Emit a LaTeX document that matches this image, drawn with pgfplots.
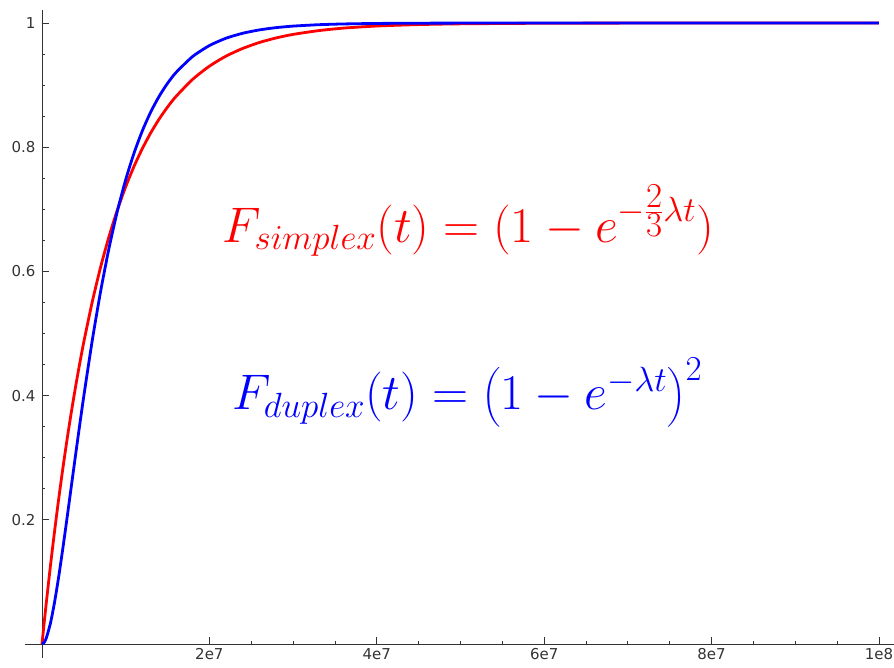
\RequirePackage{fix-cm}
\documentclass[border=0pt]{standalone}
\usepackage{amsmath}
\usepackage[no-math]{fontspec}
\setmainfont{DejaVu Sans}
\usepackage{pgfplots}
\usepackage{pgfplotstable}
\pgfplotsset{compat=1.18}

% time t in units of 1e6; simplex and duplex failure probabilities
\pgfplotstableread{
t     simplex  duplex
0     0        0
0.25  0.0328   0.00238
0.5   0.0645   0.00906
1     0.1248   0.03286
1.5   0.1813   0.06718
2     0.2341   0.10869
2.5   0.2835   0.15482
3     0.3297   0.20357
3.5   0.3729   0.25343
4     0.4134   0.30324
4.5   0.4512   0.35216
5     0.4866   0.39958
6     0.5507   0.48833
7     0.6068   0.56762
8     0.6558   0.63697
9     0.6988   0.69673
10    0.7364   0.74765
11    0.7693   0.79067
12    0.7981   0.82679
13    0.8233   0.85697
14    0.8454   0.88208
15    0.8647   0.90291
16    0.8816   0.92014
18    0.9093   0.94610
20    0.9305   0.96370
22    0.9468   0.97560
24    0.9592   0.98361
26    0.9688   0.98900
28    0.9761   0.99262
30    0.9817   0.99505
33    0.9877   0.99728
36    0.9918   0.99851
40    0.9952   0.99933
45    0.9975   0.99975
50    0.9987   0.99991
60    0.99966  0.99999
70    0.99991  1.0
80    0.99998  1.0
100   1.0      1.0
}\reliability

\definecolor{axisgray}{HTML}{333333}

\begin{document}
\begin{tikzpicture}
\begin{axis}[
  scale only axis,
  width=869pt, height=648pt,
  axis lines=middle,
  axis line style={axisgray, line width=0.9pt, -},
  xmin=-2.03, xmax=101.8,
  ymin=-0.0225, ymax=1.021,
  xtick={20,40,60,80,100},
  xticklabels={2e7,4e7,6e7,8e7,1e8},
  ytick={0.2,0.4,0.6,0.8,1},
  yticklabels={0.2,0.4,0.6,0.8,1},
  minor x tick num=3,
  minor y tick num=3,
  tick align=inside,
  major tick length=7pt,
  minor tick length=3.5pt,
  tick style={axisgray, line width=0.8pt},
  ticklabel style={font=\fontsize{15}{15}\selectfont, text=axisgray},
  xticklabel style={anchor=north, yshift=-1pt},
  yticklabel style={anchor=east, xshift=-3pt},
  clip=false,
]
\addplot[red, line width=2.8pt, smooth, tension=0.4] table[x=t, y=simplex] {\reliability};
\addplot[blue, line width=2.8pt, smooth, tension=0.4] table[x=t, y=duplex] {\reliability};

\node[anchor=base west, text=red, font=\fontsize{50}{54}\selectfont, inner sep=0pt]
  at (axis cs:21.6,0.647)
  {$F_{simplex}(t) = (1 - e^{-\frac{\scriptstyle 2}{\scriptstyle 3}\lambda t})$};
\node[anchor=base west, text=blue, font=\fontsize{50}{54}\selectfont, inner sep=0pt]
  at (axis cs:22.7,0.377)
  {$F_{duplex}(t) = \bigl(1 - e^{-\lambda t}\bigr)^2$};
\end{axis}
\pgfresetboundingbox
\path[use as bounding box]
  ([shift={(-25pt,-9pt)}]current axis.south west) rectangle
  ([shift={(0pt,10pt)}]current axis.north east);
\end{tikzpicture}
\end{document}
